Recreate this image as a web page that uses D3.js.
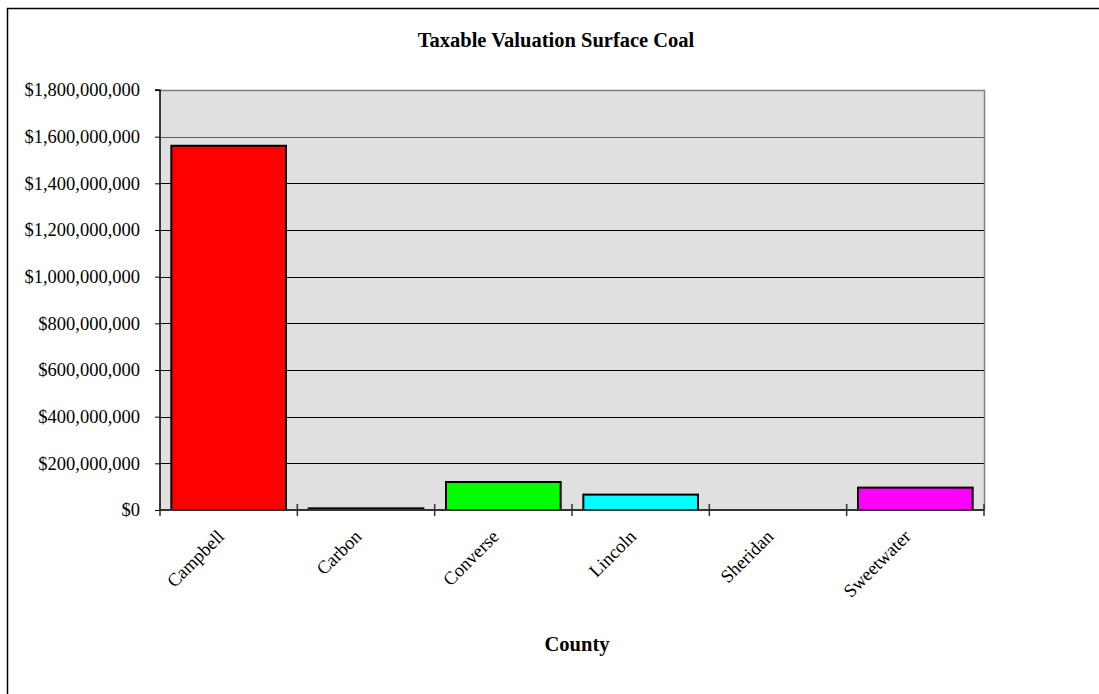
<!DOCTYPE html>
<html>
<head>
<meta charset="utf-8">
<script src="https://cdn.jsdelivr.net/npm/d3@7"></script>
<style>
html,body{margin:0;padding:0;background:#fff;}
svg{display:block;}
text{font-family:"Liberation Serif","Times New Roman",serif;fill:#000;}
</style>
</head>
<body>
<svg id="chart" width="1099" height="694"></svg>
<script>
const categories = ["Campbell","Carbon","Converse","Lincoln","Sheridan","Sweetwater"];
const values = [1561000000, 7000000, 120000000, 66000000, 0, 96000000];
const colors = ["#ff0000","#000000","#00ff00","#00ffff","#000000","#ff00ff"];
const yTicks = [0,200000000,400000000,600000000,800000000,1000000000,1200000000,1400000000,1600000000,1800000000];
const title = "Taxable Valuation Surface Coal";
const xTitle = "County";

const svg = d3.select("#chart");
const m = {left:160, top:90, right:984, bottom:510};

// outer border
svg.append("rect").attr("x",7.5).attr("y",8.5).attr("width",1200).attr("height",800)
  .attr("fill","none").attr("stroke","#000").attr("stroke-width",1.5);

const x = d3.scaleBand().domain(categories).range([m.left,m.right]).paddingInner(0.165).paddingOuter(0.0825);
const xt = d3.scaleBand().domain(categories).range([m.left,m.right]);
const y = d3.scaleLinear().domain([0,1800000000]).range([m.bottom,m.top]);

// plot background
svg.append("rect").attr("x",m.left).attr("y",m.top).attr("width",m.right-m.left).attr("height",m.bottom-m.top)
  .attr("fill","#e0e0e0");

// gridlines
svg.append("g").selectAll("line").data(yTicks.slice(1,-1)).join("line")
  .attr("x1",m.left).attr("x2",m.right)
  .attr("y1",d=>Math.round(y(d))+0.5).attr("y2",d=>Math.round(y(d))+0.5)
  .attr("stroke",d=>d===1600000000?"#606060":"#000").attr("stroke-width",1);

// plot border top/right gray
svg.append("path").attr("d",`M${m.left},${m.top+0.5}H${m.right+0.5}V${m.bottom}`)
  .attr("fill","none").attr("stroke","#808080").attr("stroke-width",1.5);

// bars
svg.append("g").selectAll("rect").data(categories).join("rect")
  .attr("x",d=>x(d)).attr("width",x.bandwidth())
  .attr("y",(d,i)=>y(values[i])).attr("height",(d,i)=>m.bottom-y(values[i]))
  .attr("fill",(d,i)=>colors[i]).attr("stroke","#000").attr("stroke-width",2);

// y axis
const yAxis = d3.axisLeft(y).tickValues(yTicks).tickSize(5).tickPadding(15)
  .tickFormat(d=>"$"+d3.format(",")(d));
const gy = svg.append("g").attr("transform",`translate(${m.left},0)`).call(yAxis);
gy.select(".domain").attr("stroke","#000").attr("stroke-width",1.5).attr("d",`M-5,${m.top}H0V${m.bottom}`);
gy.selectAll(".tick line").attr("stroke","#000");
gy.selectAll(".tick text").style("font-size","18.5px").style("font-family","Liberation Serif");

// x axis
const xAxis = d3.axisBottom(xt).tickSize(0).tickFormat("");
const gx = svg.append("g").attr("transform",`translate(0,${m.bottom})`).call(xAxis);
gx.select(".domain").attr("stroke","#333").attr("stroke-width",2).attr("d",`M${m.left},0H${m.right}`);
gx.selectAll(".tick").remove();
svg.append("g").selectAll("line").data(categories.concat(["_end"])).join("line")
  .attr("x1",(d,i)=>m.left+i*xt.step()).attr("x2",(d,i)=>m.left+i*xt.step())
  .attr("y1",m.bottom-6).attr("y2",m.bottom+6).attr("stroke","#333").attr("stroke-width",1.5);

svg.append("g").selectAll("text").data(categories).join("text")
  .attr("transform",d=>`translate(${xt(d)+xt.bandwidth()/2-8},${m.bottom+23}) rotate(-45)`)
  .attr("text-anchor","end").attr("dy","0.35em")
  .style("font-size","18.5px").text(d=>d);

// titles
svg.append("text").attr("x",556).attr("y",47).attr("text-anchor","middle")
  .style("font-size","20.5px").style("font-weight","bold").text(title);
svg.append("text").attr("x",577).attr("y",651).attr("text-anchor","middle")
  .style("font-size","20.5px").style("font-weight","bold").text(xTitle);
</script>
</body>
</html>
